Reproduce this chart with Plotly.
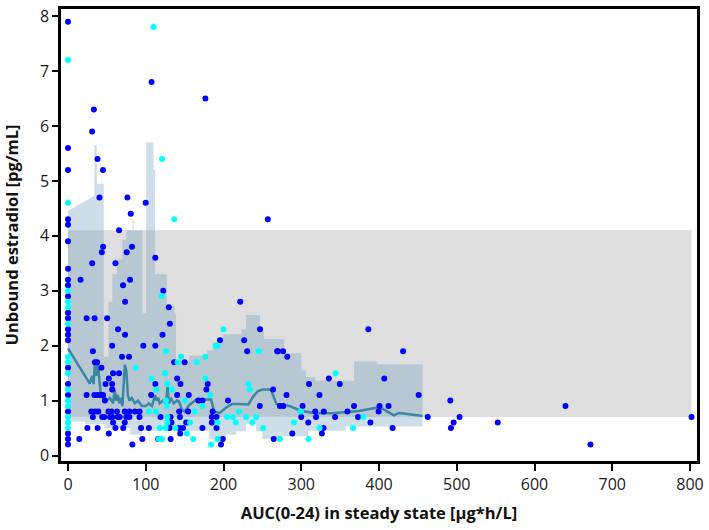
import plotly.graph_objects as go

# reference range (grey band)
ref_x = [0, 802]
ref_low = 0.7
ref_high = 4.1

# observed values, two groups
blue_x = [0] * 22 + [
    31, 33.3, 38, 45, 107.5, 176.7, 40.5, 76.4, 99.9, 80.7, 65.7, 45.2, 82.3, 43.5, 75.5,
    112.3, 31.1, 61, 16.2, 79.8, 70.8, 122.5, 73.4, 23.9, 34.2, 50.3, 64.4, 73.4, 56.8,
    96.9, 112.3, 32, 69.5, 78.5, 34.6, 37.5, 43, 58, 65.7, 52.5, 48.3, 56.8, 112.3, 23.9,
    34, 38, 42, 45, 56.8, 47.4, 107,
    30, 35, 39, 52, 56, 63, 73, 79, 86, 92,
    32, 44, 46.5, 54, 57, 64, 66.6, 75, 79, 92,
    58, 73, 25, 38, 61, 71, 94, 104,
    52.5, 95.6, 116, 14.5, 82.8,
    129.7, 221.5, 131, 121.6, 247, 195.5, 226.6, 230.5, 269, 136.6, 150, 140.4, 144.7,
    179.7, 178, 263.8, 140.4, 155.3, 167.7, 172.9, 205.8, 246.7, 143, 154.5, 186, 119,
    132, 144, 185, 191, 133, 152, 185, 130.6, 143, 148, 172.9, 191, 144.3, 132, 199,
    264.6, 196.8, 257,
    386.3, 270, 276.6, 282, 335.5, 406.8, 310, 349.5, 281, 323.5, 272.6, 277, 301.7,
    367.9, 400.8, 412.3, 300, 318, 329, 359.4, 399.5, 319, 343.6, 373, 309, 389, 328.6,
    417.4, 288.5, 326.5,
    431, 451, 491.7, 462.6, 503.6, 496, 492.5, 552.7, 639.8, 672, 802,
]
blue_y = [
    7.9, 5.6, 5.2, 4.3, 4.2, 3.9, 3.4, 3.2, 3.1, 2.9, 2.6, 2.5, 2.3, 2.2, 2.1, 1.6, 1.3,
    1.1, 0.8, 0.4, 0.3, 0.2,
    5.9, 6.3, 5.4, 5.2, 6.8, 6.5, 4.7, 4.7, 4.6, 4.4, 4.1, 3.8, 3.8, 3.7, 3.7,
    3.6, 3.5, 3.5, 3.2, 3.2, 3.1, 3.0, 2.8, 2.5, 2.5, 2.5, 2.3, 2.2, 2.0,
    2.0, 2.0, 1.9, 1.8, 1.8, 1.7, 1.7, 1.6, 1.5, 1.5, 1.4, 1.3, 1.3, 1.3, 1.1,
    1.1, 1.1, 1.1, 1.1, 1.2, 1.0, 1.1,
    0.8, 0.8, 0.8, 0.8, 0.8, 0.8, 0.8, 0.8, 0.8, 0.8,
    0.7, 0.7, 0.7, 0.7, 0.7, 0.7, 0.7, 0.7, 0.7, 0.7,
    0.6, 0.6, 0.5, 0.5, 0.5, 0.5, 0.5, 0.5,
    0.4, 0.3, 0.3, 0.3, 0.2,
    2.7, 2.8, 2.4, 2.2, 2.3, 2.1, 2.1, 1.9, 1.9, 1.7, 1.7, 1.4, 1.3,
    1.3, 1.2, 1.2, 1.1, 1.1, 1.0, 1.0, 1.0, 0.9, 0.8, 0.8, 0.8, 0.7,
    0.7, 0.7, 0.7, 0.7, 0.6, 0.6, 0.6, 0.5, 0.5, 0.5, 0.5, 0.5, 0.4, 0.3, 0.3,
    0.3, 0.2, 4.3,
    2.3, 1.9, 1.9, 1.8, 1.4, 1.4, 1.3, 1.3, 1.1, 1.1, 0.9, 0.9, 0.9,
    0.9, 0.9, 0.9, 0.7, 0.8, 0.8, 0.8, 0.8, 0.7, 0.7, 0.7, 0.6, 0.6, 0.5,
    0.5, 0.4, 0.4,
    1.9, 1.1, 1.0, 0.7, 0.7, 0.6, 0.5, 0.6, 0.9, 0.2, 0.7,
]

cyan_x = [0] * 15 + [
    110, 121, 136.6, 120.7, 87, 107.5, 124.6, 113.5, 126, 104, 113, 118, 125.6, 121,
    200, 190, 192.6, 245.4, 126, 145.5, 141, 165.6, 176.7, 125, 176.7, 127.6, 133.6,
    232, 234, 150.7, 182.7, 127, 173, 220, 163, 127.8, 204.5, 212, 229, 242, 127.8,
    157, 192.5, 216, 237, 138, 251, 152.7, 117, 161, 192.5, 184,
    344, 299.6, 380, 290.6, 323.5, 366.6, 272.6, 309.4,
]
cyan_y = [
    7.2, 4.6, 3.0, 2.8, 2.7, 2.4, 1.8, 1.7, 1.5, 1.2, 1.0, 0.9, 0.7, 0.6, 0.5,
    7.8, 5.4, 4.3, 2.9, 1.6, 1.4, 1.5, 1.2, 1.0, 0.8, 0.8, 0.5, 0.5, 0.3,
    2.3, 2.0, 2.0, 1.9, 1.9, 1.8, 1.7, 1.7, 1.8, 1.5, 1.4, 1.3, 1.2,
    1.3, 1.2, 1.0, 1.1, 0.9, 0.9, 0.8, 0.8, 0.7, 0.7, 0.7, 0.7, 0.7, 0.6,
    0.6, 0.6, 0.6, 0.6, 0.5, 0.5, 0.4, 0.3, 0.3, 0.3, 0.2,
    1.5, 0.8, 0.7, 0.6, 0.5, 0.5, 0.3, 0.3,
]

# running median
med_x = [0, 28, 31, 33, 34.5, 36, 38, 40, 42, 44, 46, 50, 54, 58, 60, 62, 64, 66, 68, 70,
         72, 73, 75, 77, 79, 82, 86, 90, 95, 100, 104, 108, 112, 114, 116, 118, 122, 126,
         128, 130, 132, 136, 140, 143, 146, 150, 156, 165, 175, 184, 188, 195, 203, 211,
         220, 232, 238, 244, 250, 256, 261, 268, 285, 300, 320, 340, 374, 401, 419, 425,
         429, 456]
med_y = [1.95, 1.31, 1.45, 1.3, 1.7, 1.45, 1.7, 1.35, 1.15, 1.05, 1.1, 1.0, 1.05, 0.95,
         1.2, 1.0, 1.1, 0.95, 1.05, 0.9, 1.3, 1.65, 1.55, 1.1, 1.0, 1.05, 0.95, 1.0, 0.9,
         0.9, 0.95, 0.9, 1.1, 1.0, 1.05, 0.95, 1.0, 0.95, 1.25, 0.95, 1.05, 0.95, 1.0,
         0.98, 0.85, 0.8, 0.92, 1.02, 1.02, 1.02, 0.8, 0.77, 0.87, 0.94, 0.94, 0.93, 1.07,
         1.17, 1.2, 1.2, 1.2, 0.94, 0.9, 0.81, 0.77, 0.77, 0.81, 0.88, 0.73, 0.77, 0.77,
         0.72]

# interval band, upper edge (steps)
upper_x = [0, 34, 34, 37, 37, 46, 46, 52, 52, 57, 57, 63, 63, 70, 70, 75, 75, 83, 83,
           84.5, 84.5, 96, 96, 100.5, 100.5, 110, 110, 112, 112, 127, 127, 137, 137, 139,
           139, 156, 156, 179, 179, 186, 186, 199, 199, 223, 223, 229, 229, 247, 247, 252,
           252, 278, 278, 300, 300, 306, 306, 318, 318, 368, 368, 397, 397, 456]
upper_y = [4.45, 4.73, 5.65, 5.65, 4.95, 4.95, 1.8, 1.8, 2.8, 2.8, 3.3, 3.3, 3.57, 3.57,
           3.93, 3.93, 4.1, 4.1, 4.3, 4.3, 4.1, 4.1, 2.6, 2.6, 5.7, 5.7, 5.2, 5.2, 3.3, 3.3,
           2.72, 2.72, 2.57, 2.57, 1.73, 1.73, 1.82, 1.82, 1.91, 1.91, 2.06, 2.06, 2.21,
           2.21, 2.3, 2.3, 2.56, 2.56, 2.27, 2.27, 2.12, 2.12, 1.86, 1.86, 1.55, 1.55, 1.43,
           1.43, 1.36, 1.36, 1.71, 1.71, 1.66, 1.66]
# interval band, lower edge (steps)
lower_x = [0, 22, 22, 47, 47, 80, 80, 95, 95, 128, 128, 140, 140, 182, 182, 203, 203, 216,
           216, 229, 229, 242, 242, 250, 250, 275, 275, 309, 309, 357, 357, 456]
lower_y = [0.62, 0.62, 0.57, 0.57, 0.5, 0.5, 0.38, 0.38, 0.45, 0.45, 0.5, 0.5, 0.45, 0.45,
           0.29, 0.29, 0.38, 0.38, 0.44, 0.44, 0.58, 0.58, 0.44, 0.44, 0.3, 0.3, 0.35, 0.35,
           0.45, 0.45, 0.53, 0.53]

x_ticks = [0, 100, 200, 300, 400, 500, 600, 700, 800]
y_ticks = [0, 1, 2, 3, 4, 5, 6, 7, 8]

fig = go.Figure()

fig.add_shape(
    type="rect", xref="x", yref="y", layer="below",
    x0=ref_x[0], x1=ref_x[1], y0=ref_low, y1=ref_high,
    fillcolor="#dedede", line=dict(width=0),
)

fig.add_trace(go.Scatter(
    x=upper_x + lower_x[::-1],
    y=upper_y + lower_y[::-1],
    fill="toself",
    fillcolor="rgba(105,156,186,0.33)",
    line=dict(width=0),
    mode="lines",
    hoverinfo="skip",
    showlegend=False,
))

fig.add_trace(go.Scatter(
    x=med_x, y=med_y, mode="lines",
    line=dict(color="#3b86a4", width=2.5),
    showlegend=False,
))

fig.add_trace(go.Scatter(
    x=blue_x, y=blue_y, mode="markers",
    marker=dict(color="#0000ff", size=6),
    showlegend=False,
))
fig.add_trace(go.Scatter(
    x=cyan_x, y=cyan_y, mode="markers",
    marker=dict(color="#00ffff", size=6),
    showlegend=False,
))

axis_font = dict(family="Open Sans, Noto Sans, sans-serif", size=16, color="#1a1a1a")
title_font = dict(family="Open Sans, Noto Sans, sans-serif", size=16.5, color="#111111")

fig.update_layout(
    width=709,
    height=530,
    margin=dict(l=61, r=9, t=5, b=69),
    plot_bgcolor="white",
    paper_bgcolor="white",
    showlegend=False,
    xaxis=dict(
        range=[-9, 809],
        tickvals=x_ticks,
        ticks="outside", ticklen=7, tickwidth=1.5, tickcolor="black",
        showline=True, linecolor="black", linewidth=2.5, mirror=True,
        showgrid=False, zeroline=False,
        tickfont=axis_font,
        title=dict(text="<b>AUC(0-24) in steady state [µg*h/L]</b>", font=title_font, standoff=14),
    ),
    yaxis=dict(
        range=[-0.1, 8.13],
        tickvals=y_ticks,
        ticks="outside", ticklen=6, tickwidth=1.5, tickcolor="black",
        showline=True, linecolor="black", linewidth=2.5, mirror=True,
        showgrid=False, zeroline=False,
        tickfont=axis_font,
        title=dict(text="<b>Unbound estradiol [pg/mL]</b>", font=title_font, standoff=19),
    ),
)

# the page body has a default 8px margin; drop it so the figure fills the window
fig.write_html(
    "out.html",
    config={"displayModeBar": False},
    post_script="document.body.style.margin='0';",
)
